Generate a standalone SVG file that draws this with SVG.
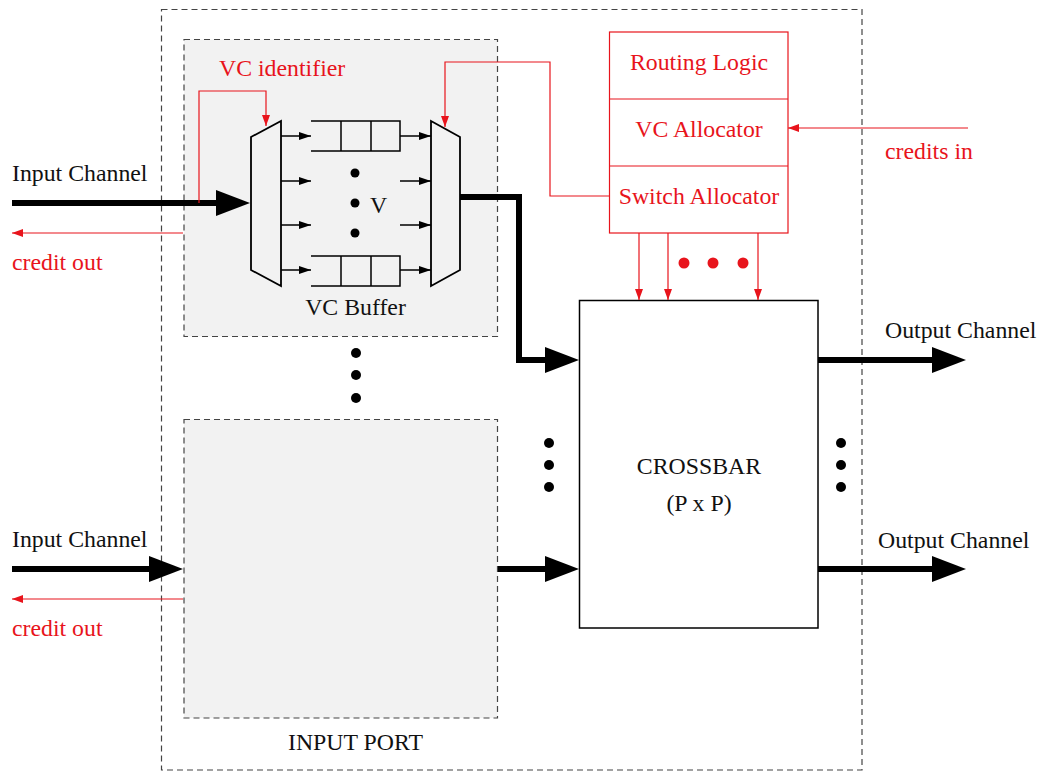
<svg xmlns="http://www.w3.org/2000/svg" width="1040" height="773" viewBox="0 0 1040 773">
<style>
text{font-family:"Liberation Serif","Times New Roman",serif;font-size:23.8px;fill:#111}
.r{fill:#e8141c}
.dash{fill:none;stroke:#444;stroke-width:1.2;stroke-dasharray:6 4}
.port{fill:#f2f2f2;stroke:#444;stroke-width:1.2;stroke-dasharray:6 4}
.thick{fill:none;stroke:#000;stroke-width:6}
.thin{fill:none;stroke:#000;stroke-width:1.5}
.rl{fill:none;stroke:#e8141c;stroke-width:1.2}
.dot{fill:#000}
.rdot{fill:#e8141c}
</style>
<defs>
<marker id="big" viewBox="0 0 34 26" refX="4" refY="13" markerWidth="34" markerHeight="26" markerUnits="userSpaceOnUse" orient="auto"><path d="M0,0L34,13L0,26Z" fill="#000"/></marker>
<marker id="sm" viewBox="0 0 12 8" refX="12" refY="4" markerWidth="12" markerHeight="8" markerUnits="userSpaceOnUse" orient="auto"><path d="M0,0L12,4L0,8Z" fill="#000"/></marker>
<marker id="red" viewBox="0 0 11 8" refX="11" refY="4" markerWidth="11" markerHeight="8" markerUnits="userSpaceOnUse" orient="auto"><path d="M0,0L11,4L0,8Z" fill="#e8141c"/></marker>
</defs>
<g id="router">
<rect class="dash" x="161.5" y="9.5" width="700.5" height="760.5"/>
<text x="355.5" y="750" text-anchor="middle">INPUT PORT</text>
</g>
<g id="input-port-1">
<rect class="port" x="184" y="39.5" width="313.5" height="297"/>
<text x="355.5" y="315" text-anchor="middle">VC Buffer</text>
<text class="r" x="219" y="76">VC identifier</text>
</g>
<g id="input-port-2">
<rect class="port" x="184" y="419.5" width="313.5" height="298.5"/>
</g>
<g id="demux">
<polygon points="251,137 281,121 281,286 251,270" fill="none" stroke="#000" stroke-width="1.8"/>
</g>
<g id="mux">
<polygon points="431,121 460,137 460,270 431,286" fill="none" stroke="#000" stroke-width="1.8"/>
</g>
<g id="vc-buffer-1">
<path class="thin" d="M311,121H400V151H311M341,121V151M371,121V151"/>
</g>
<g id="vc-buffer-v">
<path class="thin" d="M311,256H400V286H311M341,256V286M371,256V286"/>
<circle class="dot" cx="355" cy="173" r="4.5"/>
<circle class="dot" cx="355" cy="203" r="4.5"/>
<circle class="dot" cx="355" cy="233" r="4.5"/>
<text x="370" y="213">V</text>
</g>
<g id="allocators">
<rect x="609.5" y="32" width="178.5" height="201" fill="#fff" stroke="#e8141c" stroke-width="1.2"/>
<path class="rl" d="M609.5,99H788M609.5,166H788"/>
<text class="r" x="699" y="70" text-anchor="middle">Routing Logic</text>
<text class="r" x="699" y="137" text-anchor="middle">VC Allocator</text>
<text class="r" x="699" y="204" text-anchor="middle">Switch Allocator</text>
</g>
<g id="crossbar">
<rect x="579.5" y="300.5" width="238.5" height="327.5" fill="#fff" stroke="#000" stroke-width="1.5"/>
<text x="699" y="474" text-anchor="middle">CROSSBAR</text>
<text x="699" y="511" text-anchor="middle">(P x P)</text>
</g>
<g id="labels">
<text x="12" y="181">Input Channel</text>
<text class="r" x="12" y="270">credit out</text>
<text x="12" y="547">Input Channel</text>
<text class="r" x="12" y="636">credit out</text>
<text x="885" y="338">Output Channel</text>
<text x="878" y="548">Output Channel</text>
<text class="r" x="885" y="159">credits in</text>
</g>
<g id="connectors">
<path class="thick" d="M12,203H220" marker-end="url(#big)"/>
<path class="thick" d="M12,569H153" marker-end="url(#big)"/>
<path class="thick" d="M460,197H519V360H549" marker-end="url(#big)"/>
<path class="thick" d="M498,569H549" marker-end="url(#big)"/>
<path class="thick" d="M818,360H936" marker-end="url(#big)"/>
<path class="thick" d="M818,569H936" marker-end="url(#big)"/>
<path class="thin" d="M281,136H311" marker-end="url(#sm)"/>
<path class="thin" d="M281,181H311" marker-end="url(#sm)"/>
<path class="thin" d="M281,225H311" marker-end="url(#sm)"/>
<path class="thin" d="M281,270H311" marker-end="url(#sm)"/>
<path class="thin" d="M400,136H431" marker-end="url(#sm)"/>
<path class="thin" d="M400,181H431" marker-end="url(#sm)"/>
<path class="thin" d="M400,225H431" marker-end="url(#sm)"/>
<path class="thin" d="M400,270H431" marker-end="url(#sm)"/>
<path class="rl" d="M183,233H12" marker-end="url(#red)"/>
<path class="rl" d="M183,599H12" marker-end="url(#red)"/>
<path class="rl" d="M199,203V91H266V126" marker-end="url(#red)"/>
<path class="rl" d="M609.5,196H550V62H445V127" marker-end="url(#red)"/>
<path class="rl" d="M968,128H788" marker-end="url(#red)"/>
<path class="rl" d="M639,233V300" marker-end="url(#red)"/>
<path class="rl" d="M668,233V300" marker-end="url(#red)"/>
<path class="rl" d="M758,233V300" marker-end="url(#red)"/>
<circle class="rdot" cx="684" cy="263" r="5.5"/>
<circle class="rdot" cx="713" cy="263" r="5.5"/>
<circle class="rdot" cx="743" cy="263" r="5.5"/>
<circle class="dot" cx="356" cy="353" r="5"/>
<circle class="dot" cx="356" cy="375" r="5"/>
<circle class="dot" cx="356" cy="398" r="5"/>
<circle class="dot" cx="549" cy="443" r="5"/>
<circle class="dot" cx="549" cy="465" r="5"/>
<circle class="dot" cx="549" cy="487" r="5"/>
<circle class="dot" cx="841" cy="443" r="5"/>
<circle class="dot" cx="841" cy="465" r="5"/>
<circle class="dot" cx="841" cy="487" r="5"/>
</g>
</svg>
